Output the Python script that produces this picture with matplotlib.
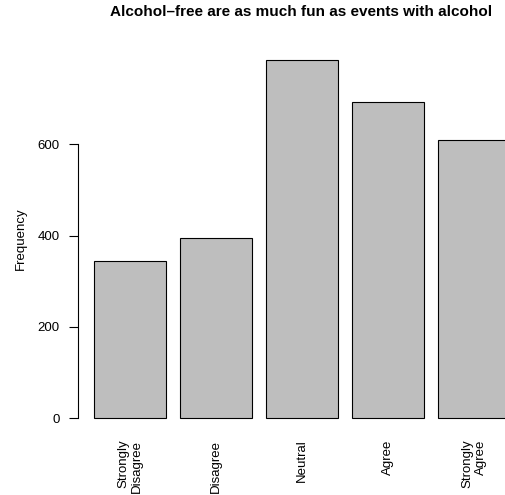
import matplotlib
matplotlib.use("Agg")
import matplotlib.pyplot as plt

categories = ["Strongly\nDisagree", "Disagree", "Neutral", "Agree", "Strongly\nAgree"]
counts = [344, 395, 785, 692, 610]
y_ticks = [0, 200, 400, 600]

plt.rcParams['font.family'] = ['Liberation Sans', 'DejaVu Sans']

fig = plt.figure(figsize=(5.05, 4.95), dpi=100)
# plot region runs past the right edge of the image, as in the original
ax = fig.add_axes([77.7 / 505, 62.4 / 495, 449.1 / 505, 387.1 / 495])

# R barplot layout: width 1, space 0.2
lefts = [0.2 + i * 1.2 for i in range(len(counts))]
centers = [l + 0.5 for l in lefts]
ax.bar(centers, counts, width=1.0, color="#BEBEBE", edgecolor="black", linewidth=0.8)

ax.set_xlim(-0.032, 6.232)
ax.set_ylim(-0.04 * max(counts), 1.04 * max(counts))

for s in ["top", "right", "bottom"]:
    ax.spines[s].set_visible(False)
ax.spines["left"].set_bounds(0, 600)
ax.spines["left"].set_linewidth(0.8)

ax.set_yticks(y_ticks)
ax.set_yticklabels([str(v) for v in y_ticks], fontsize=9.5)
ax.tick_params(axis="y", length=6.8, width=0.8, pad=6)

ax.set_xticks(centers)
ax.set_xticklabels(categories, rotation=90, fontsize=9.5, va="top", ha="center",
                   multialignment="right")
ax.tick_params(axis="x", length=0, pad=5)

ax.set_ylabel("Frequency", fontsize=9.5, labelpad=8)
fig.text(301.5 / 505, 1 - 12 / 495, "Alcohol\u2013free are as much fun as events with alcohol",
         ha="center", va="center", fontsize=11, fontweight="bold")

fig.savefig("out.png", dpi=100)
